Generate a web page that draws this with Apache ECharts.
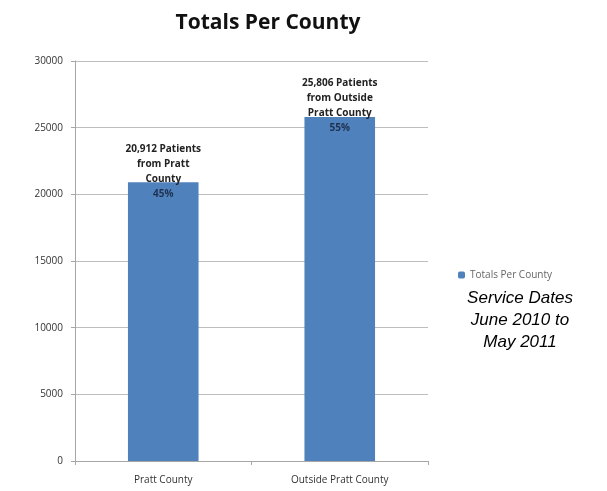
<!DOCTYPE html>
<html>
<head>
<meta charset="utf-8">
<script src="https://cdn.jsdelivr.net/npm/echarts@6/dist/echarts.min.js"></script>
<style>
  html, body { margin: 0; padding: 0; background: #fff; }
  #chart { width: 607px; height: 491px; }
</style>
</head>
<body>
<div id="chart"></div>
<script>
var categories = ['Pratt County', 'Outside Pratt County'];
var totals = [20912, 25806];
var captions = ['20,912 Patients\nfrom Pratt\nCounty', '25,806 Patients\nfrom Outside\nPratt County'];
var shares = ['45%', '55%'];
var seriesName = 'Totals Per County';

var chart = echarts.init(document.getElementById('chart'));

var option = {
  animation: false,
  backgroundColor: '#fff',
  title: {
    text: 'Totals Per County',
    left: 263,
    textAlign: 'center',
    top: 8,
    textStyle: {
      fontFamily: 'Open Sans',
      fontWeight: 'bold',
      fontSize: 21,
      color: '#111'
    }
  },
  legend: {
    data: [seriesName],
    left: 453,
    top: 265,
    itemWidth: 7,
    itemHeight: 7,
    itemGap: 4,
    textStyle: {
      fontFamily: 'Open Sans',
      fontSize: 10,
      color: '#666'
    }
  },
  grid: {
    left: 75,
    right: 179,
    top: 61,
    bottom: 30
  },
  xAxis: {
    type: 'category',
    data: categories,
    axisLine: { lineStyle: { color: '#a6a6a6' } },
    axisTick: { show: true, alignWithLabel: false, length: 4, lineStyle: { color: '#a6a6a6' } },
    axisLabel: {
      fontFamily: 'Open Sans',
      fontSize: 10,
      color: '#333',
      margin: 14
    }
  },
  yAxis: {
    type: 'value',
    min: 0,
    max: 30000,
    interval: 5000,
    axisLine: { show: true, lineStyle: { color: '#a6a6a6' } },
    axisTick: { show: true, length: 4, lineStyle: { color: '#a6a6a6' } },
    splitLine: { lineStyle: { color: '#bdbdbd' } },
    axisLabel: {
      fontFamily: 'Open Sans',
      fontSize: 10,
      color: '#333',
      margin: 12,
      formatter: function (v) { return String(v); }
    }
  },
  series: [{
    name: seriesName,
    type: 'bar',
    barWidth: '40%',
    data: totals,
    itemStyle: { color: '#4f81bd' },
    label: {
      show: true,
      position: 'top',
      distance: 0,
      offset: [0, 19],
      fontFamily: 'Open Sans',
      fontWeight: 'bold',
      fontSize: 10,
      lineHeight: 15,
      color: '#222',
      formatter: function (p) {
        return captions[p.dataIndex] + '\n{pct|' + shares[p.dataIndex] + '}';
      },
      rich: {
        pct: {
          fontFamily: 'Open Sans',
          fontWeight: 'bold',
          fontSize: 10,
          lineHeight: 15,
          color: '#1f3350'
        }
      }
    }
  }],
  graphic: [{
    type: 'text',
    x: 520,
    y: 287,
    style: {
      text: 'Service Dates\nJune 2010 to\nMay 2011',
      font: 'italic 17px "Liberation Sans"',
      fill: '#000',
      align: 'center',
      verticalAlign: 'top',
      lineHeight: 22
    }
  }]
};

chart.setOption(option);
</script>
</body>
</html>
